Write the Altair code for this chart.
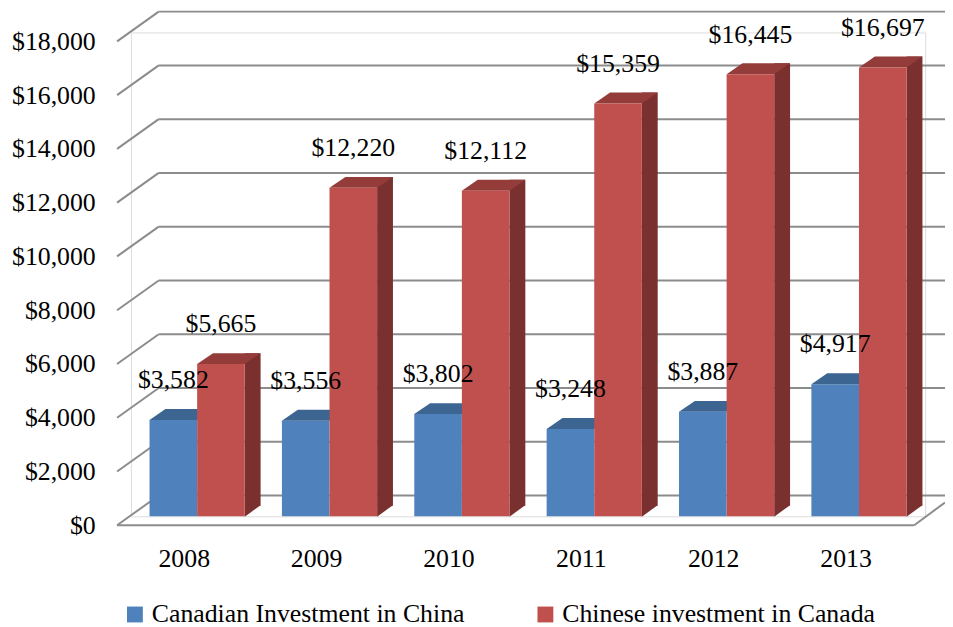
import altair as alt
import pandas as pd

# ---------------- data ----------------
years = ["2008", "2009", "2010", "2011", "2012", "2013"]
series_names = ["Canadian Investment in China", "Chinese investment in Canada"]
canadian = [3582, 3556, 3802, 3248, 3887, 4917]
chinese = [5665, 12220, 12112, 15359, 16445, 16697]
y_ticks = [0, 2000, 4000, 6000, 8000, 10000, 12000, 14000, 16000, 18000]

rows = []
for i, yr in enumerate(years):
    rows.append({"year": yr, "series": series_names[0], "value": canadian[i]})
    rows.append({"year": yr, "series": series_names[1], "value": chinese[i]})
df = pd.DataFrame(rows)
ticks_df = pd.DataFrame({"value": y_ticks})
zero_df = pd.DataFrame({"value": [0]})

# ---------------- style ----------------
FONT = "Liberation Serif"
FS = 26
BLUE, BLUE_TOP = "#4F81BD", "#3C6592"
RED, RED_TOP, RED_SIDE = "#C0504D", "#943C3A", "#7B3030"
GRID = "#8C8C8C"
W, H = 801, 488
BACK, FRONT = -21, 9       # depth offsets (px) of back wall / floor front
DX_BACK, DX_FRONT = 28, -14

TOP_PATH = "M-1.5,0L1.5,0L2.5,-0.6875L-0.5,-0.6875Z"      # unit = 16px
SIDE_TRI = "M1.5,-0.72L1.5,0.02L2.52,-0.72Z"

yscale = alt.Scale(domain=[0, 18000], nice=False, zero=True)
xscale = alt.Scale(domain=years, paddingInner=0.2809, paddingOuter=0.14045)
offscale = alt.Scale(domain=series_names, paddingInner=0, paddingOuter=0)
colscale = alt.Scale(domain=series_names, range=[BLUE, RED])

Y_AX = alt.Axis(values=y_ticks, format="$,.0f", grid=False, ticks=False, domain=False,
                labelFont=FONT, labelFontSize=FS, labelColor="black", labelPadding=36,
                labelOffset=FRONT, title=None)
X_AX = alt.Axis(grid=False, ticks=False, domain=False, labelFont=FONT, labelFontSize=FS,
                labelColor="black", labelPadding=30, labelOffset=-13, labelAngle=0, title=None)

Y = alt.Y("value:Q", scale=yscale, axis=Y_AX)
Y2 = alt.Y2("value")
X = alt.X("year:N", scale=xscale, axis=X_AX, sort=years)
XO = alt.XOffset("series:N", scale=offscale, sort=series_names)
LEG = alt.Legend(orient="none", legendX=-9, legendY=574, direction="horizontal", columns=2,
                 title=None, symbolType="square", symbolSize=256, symbolStrokeWidth=0,
                 labelFont=FONT, labelFontSize=FS, labelColor="black", labelLimit=500,
                 columnPadding=68, labelOffset=4, padding=0)
COLOR = alt.Color("series:N", scale=colscale, legend=LEG)

# back wall gridlines
back = alt.Chart(ticks_df).mark_rule(color=GRID, strokeWidth=2, yOffset=BACK).encode(
    y=Y, x=alt.value(DX_BACK), x2=alt.value(W + 20))
# left wall diagonals
diag = alt.Chart(ticks_df).mark_rule(color=GRID, strokeWidth=2, yOffset=FRONT, y2Offset=BACK).encode(
    y=Y, y2=Y2, x=alt.value(DX_FRONT), x2=alt.value(DX_BACK))
# floor front edge and right edge
floor_front = alt.Chart(zero_df).mark_rule(color=GRID, strokeWidth=2, yOffset=FRONT).encode(
    y=Y, x=alt.value(DX_FRONT), x2=alt.value(790))
floor_right = alt.Chart(zero_df).mark_rule(color=GRID, strokeWidth=2, yOffset=FRONT, y2Offset=-14).encode(
    y=Y, y2=Y2, x=alt.value(790), x2=alt.value(W + 20))

blue_df = df[df.series == series_names[0]]
red_df = df[df.series == series_names[1]]

blue_front = alt.Chart(blue_df).mark_bar().encode(x=X, xOffset=XO, y=Y, color=COLOR)
blue_top = alt.Chart(blue_df).mark_point(shape=TOP_PATH, size=1024, filled=True, opacity=1,
                                         strokeWidth=0, color=BLUE_TOP).encode(x=X, xOffset=XO, y=Y)
# side face: thick vertical rule right of the red front face (group centre + 48 + 8)
red_side = alt.Chart(red_df).transform_calculate(zero="0").mark_rule(
    strokeWidth=16, strokeCap="butt", xOffset=56, yOffset=-11, y2Offset=-11, color=RED_SIDE
).encode(x=X, y=Y, y2=alt.Y2("zero:Q"))
red_tri = alt.Chart(red_df).transform_calculate(zero="0").mark_point(
    shape=SIDE_TRI, size=1024, filled=True, opacity=1, strokeWidth=0, color=RED_SIDE
).encode(x=X, xOffset=XO, y=alt.Y("zero:Q", scale=yscale, axis=Y_AX))
red_top = alt.Chart(red_df).mark_point(shape=TOP_PATH, size=1024, filled=True, opacity=1,
                                       strokeWidth=0, color=RED_TOP).encode(x=X, xOffset=XO, y=Y)
red_front = alt.Chart(red_df).mark_bar().encode(x=X, xOffset=XO, y=Y, color=COLOR)

labels = alt.Chart(df).mark_text(dy=-40, font=FONT, fontSize=FS, color="black").encode(
    x=X, xOffset=XO, y=Y, text=alt.Text("value:Q", format="$,.0f"))

chart = alt.layer(back, diag, floor_front, floor_right, blue_front, blue_top,
                  red_side, red_tri, red_top, red_front, labels).properties(
    width=W, height=H,
    padding={"left": 124, "top": 22, "right": 20, "bottom": 113},
    autosize=alt.AutoSizeParams(type="none"),
).configure_view(stroke=None).configure(background="white", font=FONT)

chart.save("out.html", embed_options={"renderer": "svg", "actions": False})
